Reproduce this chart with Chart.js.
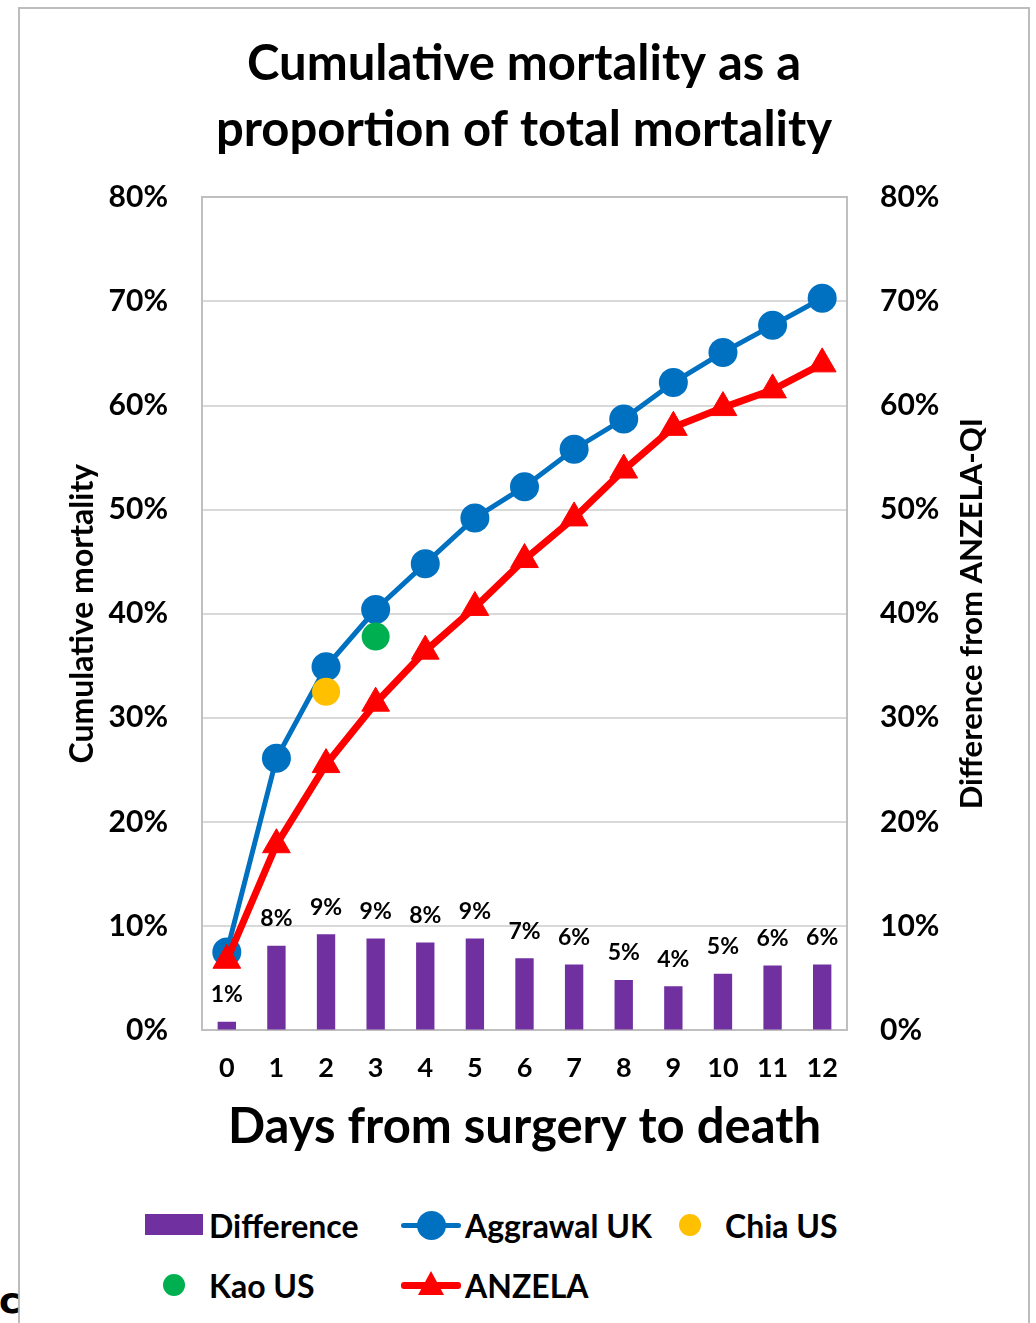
<!DOCTYPE html>
<html>
<head>
<meta charset="utf-8">
<script src="https://cdn.jsdelivr.net/npm/chart.js@4.4.1/dist/chart.umd.min.js"></script>
<style>
  html, body { margin: 0; padding: 0; background: #fff; overflow: hidden; }
  body { width: 1036px; height: 1323px; position: relative; font-family: Lato, sans-serif; }
  #frame { position: absolute; left: 18px; top: 7px; width: 1012px; height: 1340px; border: 2px solid #bdbdbd; box-sizing: border-box; }
  #chart { position: absolute; left: 0; top: 0; }
  #legend { position: absolute; left: 145px; top: 1195px; display: grid; grid-template-columns: 256px 260px auto; grid-auto-rows: 60px; }
  .item { display: flex; align-items: center; font: bold 32px Lato, sans-serif; color: #000; }
  .icon { position: relative; width: 58px; height: 40px; margin-right: 6px; flex: none; }
  .icon .bar { position: absolute; left: 0; top: 9px; width: 58px; height: 21px; }
  .icon .ln { position: absolute; left: 0; width: 60px; border-radius: 3px; }
  .icon .dot { position: absolute; border-radius: 50%; }
  .icon .tri { position: absolute; width: 0; height: 0; border-left: 13px solid transparent; border-right: 13px solid transparent; }
  #panel { position: absolute; left: -1px; top: 1280px; font: bold 36px "DejaVu Sans", sans-serif; color: #000; }
</style>
</head>
<body>
<div id="frame"></div>
<canvas id="chart" width="1036" height="1180"></canvas>
<div id="legend"></div>
<div id="panel">c</div>
<script>
// values, in percent
const days = ['0', '1', '2', '3', '4', '5', '6', '7', '8', '9', '10', '11', '12'];
const difference = [0.8, 8.1, 9.2, 8.8, 8.4, 8.8, 6.9, 6.3, 4.8, 4.2, 5.4, 6.2, 6.3];
const aggrawalUK = [7.5, 26.1, 34.9, 40.4, 44.8, 49.2, 52.2, 55.8, 58.7, 62.2, 65.1, 67.7, 70.3];
const chiaUS = [null, null, 32.5, null, null, null, null, null, null, null, null, null, null];
const kaoUS = [null, null, null, 37.8, null, null, null, null, null, null, null, null, null];
const anzela = [6.7, 17.8, 25.5, 31.4, 36.4, 40.6, 45.2, 49.2, 53.8, 57.9, 59.8, 61.5, 64.0];
const yTicks = [0, 10, 20, 30, 40, 50, 60, 70, 80];

const FONT = 'Lato, sans-serif';

// bar value labels above the purple bars
const barLabels = {
  id: 'barLabels',
  afterDatasetsDraw(chart) {
    const ctx = chart.ctx;
    const meta = chart.getDatasetMeta(0);
    ctx.save();
    ctx.font = 'bold 23px ' + FONT;
    ctx.fillStyle = '#000';
    ctx.textAlign = 'center';
    ctx.textBaseline = 'middle';
    meta.data.forEach((bar, i) => {
      ctx.fillText(Math.round(difference[i]) + '%', bar.x, bar.y - 27);
    });
    ctx.restore();
  }
};

// right axis title reads bottom-to-top like the left one
const rightTitle = {
  id: 'rightTitle',
  afterDraw(chart) {
    const ctx = chart.ctx;
    const a = chart.chartArea;
    ctx.save();
    ctx.translate(972, (a.top + a.bottom) / 2);
    ctx.rotate(-Math.PI / 2);
    ctx.font = 'bold 31px ' + FONT;
    ctx.fillStyle = '#000';
    ctx.textAlign = 'center';
    ctx.textBaseline = 'middle';
    ctx.fillText('Difference from ANZELA-QI', 0, 0);
    ctx.restore();
  }
};

const pct = v => v + '%';

const chart = new Chart(document.getElementById('chart'), {
  data: {
    labels: days,
    datasets: [
      {
        type: 'bar', label: 'Difference', data: difference, yAxisID: 'y2',
        backgroundColor: '#7030A0', barPercentage: 0.37, categoryPercentage: 1, order: 5
      },
      {
        type: 'line', label: 'Aggrawal UK', data: aggrawalUK, yAxisID: 'y',
        borderColor: '#0070C0', backgroundColor: '#0070C0', borderWidth: 5,
        pointRadius: 14.5, pointHoverRadius: 14.5, pointBorderWidth: 0, order: 4
      },
      {
        type: 'line', label: 'Chia US', data: chiaUS, yAxisID: 'y', showLine: false,
        borderColor: '#FFC000', backgroundColor: '#FFC000',
        pointRadius: 14, pointHoverRadius: 14, pointBorderWidth: 0, order: 1
      },
      {
        type: 'line', label: 'Kao US', data: kaoUS, yAxisID: 'y', showLine: false,
        borderColor: '#00B050', backgroundColor: '#00B050',
        pointRadius: 14, pointHoverRadius: 14, pointBorderWidth: 0, order: 2
      },
      {
        type: 'line', label: 'ANZELA', data: anzela, yAxisID: 'y',
        borderColor: '#FF0000', backgroundColor: '#FF0000', borderWidth: 7,
        pointStyle: 'triangle', pointRadius: 16, pointHoverRadius: 16, pointBorderWidth: 1, order: 3
      }
    ]
  },
  options: {
    responsive: false,
    animation: false,
    events: [],
    layout: { padding: { left: 12, right: 0, top: 0, bottom: 0 } },
    plugins: {
      legend: { display: false },
      tooltip: { enabled: false },
      title: {
        display: true,
        text: ['Cumulative mortality as a', 'proportion of total mortality'],
        color: '#000',
        font: { family: FONT, size: 49, weight: 'bold', lineHeight: 1.33 },
        padding: { top: 32, bottom: 35 }
      }
    },
    scales: {
      x: {
        type: 'category',
        offset: true,
        grid: { display: false, drawTicks: false },
        border: { color: '#bfbfbf', width: 2 },
        ticks: { color: '#000', font: { family: FONT, size: 27, weight: 'bold' }, padding: 22, maxRotation: 0, autoSkip: false },
        title: {
          display: true, text: 'Days from surgery to death', color: '#000',
          font: { family: FONT, size: 49, weight: 'bold', lineHeight: 1.2 },
          padding: { top: 0, bottom: 23 }
        },
        afterFit(scale) { scale.height = 150; }
      },
      y: {
        position: 'left', min: 0, max: 80,
        afterBuildTicks(scale) { scale.ticks = yTicks.map(v => ({ value: v })); },
        grid: {
          drawTicks: false, lineWidth: 2,
          color: c => (c.tick && c.tick.value === 80 ? '#bfbfbf' : '#d9d9d9')
        },
        border: { color: '#bfbfbf', width: 2 },
        ticks: { color: '#000', font: { family: FONT, size: 30, weight: 'bold' }, padding: 34, callback: pct },
        title: {
          display: true, text: 'Cumulative mortality', color: '#000',
          font: { family: FONT, size: 32, weight: 'bold', lineHeight: 1.2 },
          padding: { top: 51, bottom: 0 }
        },
        afterFit(scale) { scale.width = 190; }
      },
      y2: {
        position: 'right', min: 0, max: 80,
        afterBuildTicks(scale) { scale.ticks = yTicks.map(v => ({ value: v })); },
        grid: { drawOnChartArea: false, drawTicks: false },
        border: { color: '#bfbfbf', width: 2 },
        ticks: { color: '#000', font: { family: FONT, size: 30, weight: 'bold' }, padding: 33, callback: pct },
        afterFit(scale) { scale.width = 189; }
      }
    }
  },
  plugins: [barLabels, rightTitle]
});

// html legend built from the datasets
const legend = document.getElementById('legend');
chart.data.datasets.forEach(ds => {
  const item = document.createElement('div');
  item.className = 'item';
  const icon = document.createElement('span');
  icon.className = 'icon';
  const c = ds.backgroundColor;
  if (ds.type === 'bar') {
    icon.innerHTML = `<span class="bar" style="background:${c}"></span>`;
  } else if (ds.showLine === false) {
    icon.innerHTML = `<span class="dot" style="background:${c};width:22px;height:22px;left:18px;top:9px"></span>`;
  } else if (ds.pointStyle === 'triangle') {
    icon.innerHTML = `<span class="ln" style="background:${c};height:7px;top:16.5px"></span>` +
      `<span class="tri" style="border-bottom:24px solid ${c};left:17px;top:6px"></span>`;
  } else {
    icon.innerHTML = `<span class="ln" style="background:${c};height:5px;top:17.5px"></span>` +
      `<span class="dot" style="background:${c};width:29px;height:29px;left:15.5px;top:5.5px"></span>`;
  }
  item.appendChild(icon);
  item.appendChild(document.createTextNode(ds.label));
  legend.appendChild(item);
});
</script>
</body>
</html>
